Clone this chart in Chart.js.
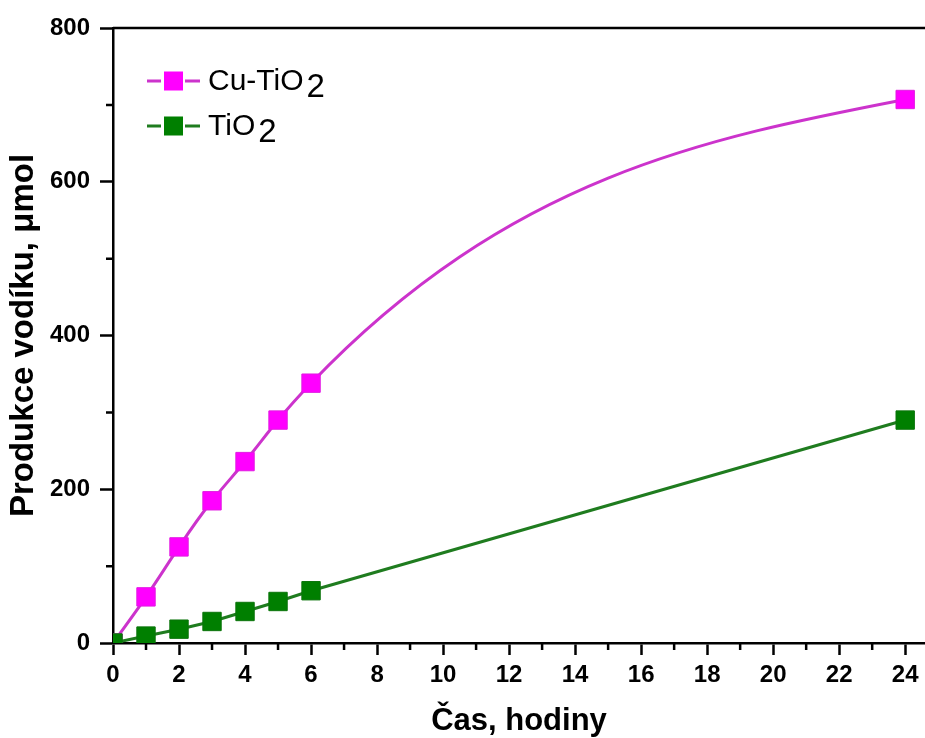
<!DOCTYPE html>
<html>
<head>
<meta charset="utf-8">
<title>Produkce vodíku</title>
<script src="https://cdn.jsdelivr.net/npm/chart.js@4.4.0/dist/chart.umd.min.js"></script>
<style>
  html, body { margin: 0; padding: 0; background: #fff; }
  canvas { display: block; }
</style>
</head>
<body>
<canvas id="grafico" width="925" height="738"></canvas>
<script>
// Čas v hodinách a produkce vodíku v µmol
const casHodiny = [0, 1, 2, 3, 4, 5, 6, 24];
const cuTiO2 = [0, 60, 125, 185, 236, 290, 338, 707];
const tiO2 = [0, 9, 18, 28, 41, 54, 68, 290];

// Popisky a značky os
const xTicks = [0, 2, 4, 6, 8, 10, 12, 14, 16, 18, 20, 22, 24];
const xMinorTicks = [1, 3, 5, 7, 9, 11, 13, 15, 17, 19, 21, 23];
const yTicks = [0, 200, 400, 600, 800];
const yMinorTicks = [100, 300, 500, 700];

const FONT = "'Liberation Sans', Arial, Helvetica, sans-serif";

// Přirozený kubický spline přes body datové sady (v pixelech škál)
const splineLine = {
    id: 'splineLine',
    beforeDatasetsDraw(chart) {
        const { ctx, chartArea } = chart;
        chart.data.datasets.forEach((ds, i) => {
            if (!ds.spline) return;
            const pts = chart.getDatasetMeta(i).data;
            const n = pts.length;
            const xs = pts.map(p => p.x);
            const ys = pts.map(p => p.y);
            const h = [], s = [];
            for (let k = 0; k < n - 1; k++) {
                h[k] = xs[k + 1] - xs[k];
                s[k] = (ys[k + 1] - ys[k]) / h[k];
            }
            // druhé derivace, okrajové podmínky m[0] = m[n-1] = 0
            const m = new Array(n).fill(0);
            const c = new Array(n).fill(0);
            const d = new Array(n).fill(0);
            for (let k = 1; k < n - 1; k++) {
                const a = h[k - 1];
                const b = 2 * (h[k - 1] + h[k]);
                const r = 6 * (s[k] - s[k - 1]);
                const den = b - a * c[k - 1];
                c[k] = h[k] / den;
                d[k] = (r - a * d[k - 1]) / den;
            }
            for (let k = n - 2; k >= 1; k--) m[k] = d[k] - c[k] * m[k + 1];

            ctx.save();
            ctx.beginPath();
            ctx.rect(chartArea.left, chartArea.top, chartArea.width, chartArea.height);
            ctx.clip();
            ctx.beginPath();
            ctx.moveTo(xs[0], ys[0]);
            for (let k = 0; k < n - 1; k++) {
                const hk = h[k];
                const d0 = s[k] - hk * (2 * m[k] + m[k + 1]) / 6;
                const d1 = s[k] + hk * (m[k] + 2 * m[k + 1]) / 6;
                ctx.bezierCurveTo(xs[k] + hk / 3, ys[k] + d0 * hk / 3,
                                  xs[k + 1] - hk / 3, ys[k + 1] - d1 * hk / 3,
                                  xs[k + 1], ys[k + 1]);
            }
            ctx.strokeStyle = ds.borderColor;
            ctx.lineWidth = ds.borderWidth;
            ctx.lineJoin = 'round';
            ctx.stroke();
            ctx.restore();
        });
    }
};

// Horní rámeček a vedlejší značky os
const axisExtras = {
    id: 'axisExtras',
    afterDraw(chart) {
        const { ctx, chartArea, scales } = chart;
        ctx.save();
        ctx.strokeStyle = '#000';
        ctx.lineWidth = 2.5;
        ctx.beginPath();
        ctx.moveTo(chartArea.left, chartArea.top);
        ctx.lineTo(chartArea.right, chartArea.top);
        xMinorTicks.forEach(v => {
            const x = scales.x.getPixelForValue(v);
            ctx.moveTo(x, chartArea.bottom);
            ctx.lineTo(x, chartArea.bottom + 7);
        });
        yMinorTicks.forEach(v => {
            const y = scales.y.getPixelForValue(v);
            ctx.moveTo(chartArea.left, y);
            ctx.lineTo(chartArea.left - 7, y);
        });
        ctx.stroke();
        ctx.restore();
    }
};

// Legenda v levém horním rohu, index 2 posunutý dolů
const legendBox = {
    id: 'legendBox',
    afterDraw(chart) {
        const { ctx } = chart;
        const left = 147, top = 81, step = 45;
        ctx.save();
        chart.data.datasets.forEach((ds, i) => {
            const y = top + i * step;
            ctx.strokeStyle = ds.borderColor;
            ctx.lineWidth = 3;
            ctx.beginPath();
            ctx.moveTo(left, y); ctx.lineTo(left + 14, y);
            ctx.moveTo(left + 38, y); ctx.lineTo(left + 53, y);
            ctx.stroke();
            ctx.fillStyle = ds.pointBackgroundColor;
            ctx.fillRect(left + 17, y - 9.5, 19, 19);

            const parts = ds.label.match(/^(.*?)(\d+)$/);
            ctx.fillStyle = '#000';
            ctx.textBaseline = 'alphabetic';
            ctx.font = '30px ' + FONT;
            ctx.fillText(parts[1], 208, y + 9);
            const w = ctx.measureText(parts[1]).width;
            ctx.font = '33px ' + FONT;
            ctx.fillText(parts[2], 208 + w + 3, y + 16);
        });
        ctx.restore();
    }
};

const osaFont = { family: FONT, size: 24, weight: 'bold' };

const chartData = {
    labels: casHodiny,
    datasets: [
        {
            label: 'Cu-TiO2',
            data: casHodiny.map((t, i) => ({ x: t, y: cuTiO2[i] })),
            spline: true,
            showLine: false,
            borderColor: '#CC33CC',
            borderWidth: 3,
            pointStyle: 'rect',
            pointRadius: 13,
            pointBackgroundColor: '#FF00FF',
            pointBorderColor: '#E21BE2',
            pointBorderWidth: 1,
            order: 2
        },
        {
            label: 'TiO2',
            data: casHodiny.map((t, i) => ({ x: t, y: tiO2[i] })),
            borderColor: '#1F7C1F',
            borderWidth: 3,
            tension: 0,
            pointStyle: 'rect',
            pointRadius: 13,
            pointBackgroundColor: '#007F00',
            pointBorderColor: '#0A740A',
            pointBorderWidth: 1,
            order: 1
        }
    ]
};

const chartOptions = {
    responsive: false,
    animation: false,
    events: [],
    layout: { autoPadding: false, padding: { top: 28, right: 0, bottom: 0, left: 0 } },
    plugins: {
        legend: { display: false },
        tooltip: { enabled: false }
    },
    scales: {
        x: {
            type: 'linear',
            min: 0,
            max: 24.6,
            afterBuildTicks: s => { s.ticks = xTicks.map(v => ({ value: v })); },
            afterFit: s => { s.height = 95; },
            grid: { display: true, drawOnChartArea: false, drawTicks: true, tickLength: 12, tickWidth: 2.5, tickColor: '#000' },
            border: { display: true, color: '#000', width: 2.5 },
            ticks: { color: '#000', font: osaFont, padding: 6, maxRotation: 0, autoSkip: false },
            title: {
                display: true,
                text: 'Čas, hodiny',
                color: '#000',
                font: { family: FONT, size: 31, weight: 'bold', lineHeight: 1 },
                padding: { top: 0, bottom: 1 }
            }
        },
        y: {
            type: 'linear',
            min: 0,
            max: 800,
            afterBuildTicks: s => { s.ticks = yTicks.map(v => ({ value: v })); },
            afterFit: s => { s.width = 113; },
            grid: { display: true, drawOnChartArea: false, drawTicks: true, tickLength: 13, tickWidth: 2.5, tickColor: '#000' },
            border: { display: true, color: '#000', width: 2.5 },
            ticks: { color: '#000', font: osaFont, padding: 10 },
            title: {
                display: true,
                text: 'Produkce vodíku, μmol',
                color: '#000',
                font: { family: FONT, size: 33, weight: 'bold' },
                padding: { top: 4, bottom: 0 }
            }
        }
    }
};

const canvas = document.getElementById('grafico');
const ctx = canvas.getContext('2d');
const chart = new Chart(ctx, {
    type: 'line',
    data: chartData,
    options: chartOptions,
    plugins: [splineLine, axisExtras, legendBox]
});
</script>
</body>
</html>
